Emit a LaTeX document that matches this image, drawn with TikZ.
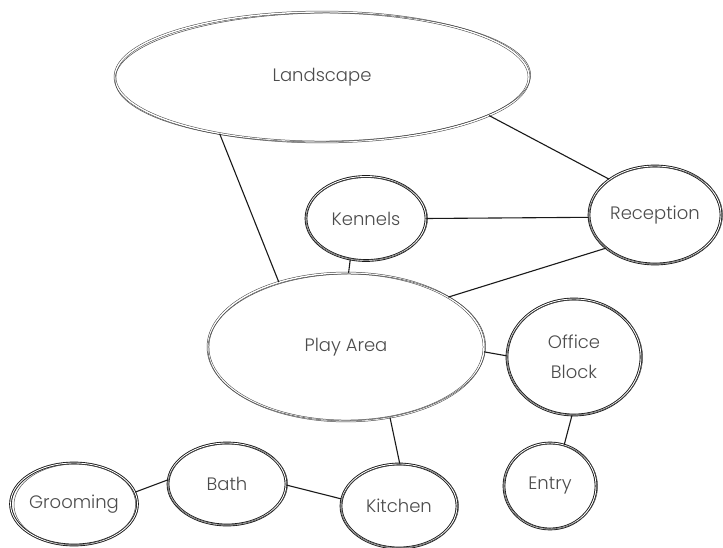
\documentclass[tikz,border=0pt]{standalone}
\usepackage{fontspec}
\setmainfont{Poppins Light}
\usetikzlibrary{shapes.geometric}
\tikzset{
  bub/.style={ellipse, draw=black!90, double=white, double distance=0.9pt, line width=0.9pt,
    inner sep=0pt, align=center, text=black!70, font=\fontsize{18}{22}\selectfont},
  bigbub/.style={draw=black!75, double distance=1.4pt, line width=0.5pt},
  sketch/.style={draw=black!70, line width=0.5pt},
  link/.style={draw=black!90, line width=1.1pt}
}
\newcommand\bubble[7]{%
  \node[bub,#7,minimum width=2*#3,minimum height=2*#4] (#5) at (#1,#2) {#6};
  \draw[sketch] (#1+0.8,#2+0.4) ellipse [x radius=#3+0.8, y radius=#4-0.6, rotate=0.7];
}
\begin{document}
\begin{tikzpicture}[x=1pt,y=-1pt]
\useasboundingbox[fill=white] (0,0) rectangle (723,548);
\bubble{322}{77}{207}{65}{land}{Landscape}{bigbub}
\bubble{346}{347}{138}{74}{play}{Play Area}{bigbub}
\bubble{366}{218.5}{60}{42}{ken}{Kennels}{}
\bubble{655}{215}{66}{49}{rec}{Reception}{}
\bubble{574}{357}{67}{58}{off}{Office\\[8pt]Block}{}
\bubble{550}{486}{46}{43}{ent}{Entry}{}
\bubble{74}{504}{60}{41}{groom}{Grooming}{}
\bubble{227}{484}{59}{41}{bath}{Bath}{}
\bubble{399}{506}{58}{42}{kit}{Kitchen}{}
\draw[link] (land.209) -- (play.136);
\draw[link] (land.347) -- (rec.142);
\draw[link] (ken.0) -- (rec.182);
\draw[link] (ken.249) -- (play.88);
\draw[link] (rec.214) -- (play.26);
\draw[link] (play.358) -- (off.179);
\draw[link] (off.268) -- (ent.71);
\draw[link] (play.302) -- (kit.89);
\draw[link] (bath.359) -- (kit.173);
\draw[link] (groom.11) -- (bath.176);
\end{tikzpicture}
\end{document}
